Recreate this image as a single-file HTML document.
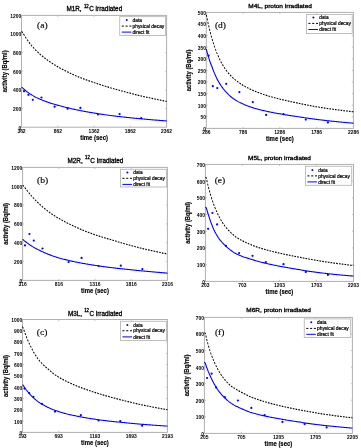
<!DOCTYPE html>
<html><head><meta charset="utf-8"><style>
html,body{margin:0;padding:0;background:#fff;width:361px;height:448px;overflow:hidden}
svg{display:block;will-change:transform}
text{fill:#000}
</style></head><body>
<svg xmlns="http://www.w3.org/2000/svg" width="361" height="448" viewBox="0 0 361 448">
<rect width="361" height="448" fill="#fff"/>
<rect x="21.5" y="15.4" width="145.1" height="111.8" fill="none" stroke="#b0b0b0" stroke-width="1.0"/>
<text transform="translate(21.20,129.60) scale(0.853,1)" font-family='"Liberation Sans", sans-serif' font-size="5.8" font-weight="bold" text-anchor="end" >0</text>
<line x1="21.5" y1="108.57" x2="23.1" y2="108.57" stroke="#b0b0b0" stroke-width="0.7"/>
<line x1="166.6" y1="108.57" x2="165.0" y2="108.57" stroke="#b0b0b0" stroke-width="0.7"/>
<text transform="translate(21.20,110.97) scale(0.853,1)" font-family='"Liberation Sans", sans-serif' font-size="5.8" font-weight="bold" text-anchor="end" >200</text>
<line x1="21.5" y1="89.93" x2="23.1" y2="89.93" stroke="#b0b0b0" stroke-width="0.7"/>
<line x1="166.6" y1="89.93" x2="165.0" y2="89.93" stroke="#b0b0b0" stroke-width="0.7"/>
<text transform="translate(21.20,92.33) scale(0.853,1)" font-family='"Liberation Sans", sans-serif' font-size="5.8" font-weight="bold" text-anchor="end" >400</text>
<line x1="21.5" y1="71.30" x2="23.1" y2="71.30" stroke="#b0b0b0" stroke-width="0.7"/>
<line x1="166.6" y1="71.30" x2="165.0" y2="71.30" stroke="#b0b0b0" stroke-width="0.7"/>
<text transform="translate(21.20,73.70) scale(0.853,1)" font-family='"Liberation Sans", sans-serif' font-size="5.8" font-weight="bold" text-anchor="end" >600</text>
<line x1="21.5" y1="52.67" x2="23.1" y2="52.67" stroke="#b0b0b0" stroke-width="0.7"/>
<line x1="166.6" y1="52.67" x2="165.0" y2="52.67" stroke="#b0b0b0" stroke-width="0.7"/>
<text transform="translate(21.20,55.07) scale(0.853,1)" font-family='"Liberation Sans", sans-serif' font-size="5.8" font-weight="bold" text-anchor="end" >800</text>
<line x1="21.5" y1="34.03" x2="23.1" y2="34.03" stroke="#b0b0b0" stroke-width="0.7"/>
<line x1="166.6" y1="34.03" x2="165.0" y2="34.03" stroke="#b0b0b0" stroke-width="0.7"/>
<text transform="translate(21.20,36.43) scale(0.853,1)" font-family='"Liberation Sans", sans-serif' font-size="5.8" font-weight="bold" text-anchor="end" >1000</text>
<text transform="translate(21.20,17.80) scale(0.853,1)" font-family='"Liberation Sans", sans-serif' font-size="5.8" font-weight="bold" text-anchor="end" >1200</text>
<text transform="translate(21.50,132.80) scale(0.853,1)" font-family='"Liberation Sans", sans-serif' font-size="5.8" font-weight="bold" text-anchor="middle" >362</text>
<line x1="57.77" y1="127.2" x2="57.77" y2="125.60000000000001" stroke="#b0b0b0" stroke-width="0.7"/>
<line x1="57.77" y1="15.4" x2="57.77" y2="17.0" stroke="#b0b0b0" stroke-width="0.7"/>
<text transform="translate(57.77,132.80) scale(0.853,1)" font-family='"Liberation Sans", sans-serif' font-size="5.8" font-weight="bold" text-anchor="middle" >862</text>
<line x1="94.05" y1="127.2" x2="94.05" y2="125.60000000000001" stroke="#b0b0b0" stroke-width="0.7"/>
<line x1="94.05" y1="15.4" x2="94.05" y2="17.0" stroke="#b0b0b0" stroke-width="0.7"/>
<text transform="translate(94.05,132.80) scale(0.853,1)" font-family='"Liberation Sans", sans-serif' font-size="5.8" font-weight="bold" text-anchor="middle" >1362</text>
<line x1="130.32" y1="127.2" x2="130.32" y2="125.60000000000001" stroke="#b0b0b0" stroke-width="0.7"/>
<line x1="130.32" y1="15.4" x2="130.32" y2="17.0" stroke="#b0b0b0" stroke-width="0.7"/>
<text transform="translate(130.32,132.80) scale(0.853,1)" font-family='"Liberation Sans", sans-serif' font-size="5.8" font-weight="bold" text-anchor="middle" >1862</text>
<text transform="translate(166.60,132.80) scale(0.853,1)" font-family='"Liberation Sans", sans-serif' font-size="5.8" font-weight="bold" text-anchor="middle" >2362</text>
<polyline transform="scale(0.78,1)" points="27.56,31.49 28.73,32.20 29.90,33.73 31.07,35.21 32.24,36.65 33.41,38.04 34.58,39.38 35.75,40.71 36.92,42.00 38.09,43.23 39.26,44.41 40.43,45.55 41.60,46.63 42.77,47.67 43.94,48.67 45.11,49.64 46.28,50.57 47.45,51.46 48.62,52.32 49.79,53.15 50.96,53.94 52.13,54.70 53.30,55.48 54.47,56.24 55.64,56.99 56.81,57.72 57.98,58.42 59.15,59.11 60.32,59.79 61.49,60.45 62.66,61.10 63.83,61.74 65.00,62.37 66.17,62.98 67.34,63.58 68.51,64.17 69.68,64.74 70.85,65.30 72.02,65.84 73.19,66.38 74.36,66.90 75.53,67.41 76.70,67.92 77.87,68.41 79.04,68.90 80.21,69.38 81.38,69.85 82.55,70.31 83.72,70.77 84.89,71.23 86.06,71.68 87.23,72.14 88.40,72.60 89.57,73.05 90.74,73.49 91.91,73.93 93.08,74.36 94.25,74.78 95.42,75.18 96.59,75.58 97.76,75.96 98.93,76.34 100.10,76.72 101.27,77.08 102.44,77.45 103.61,77.81 104.78,78.16 105.95,78.51 107.12,78.86 108.29,79.20 109.46,79.54 110.63,79.87 111.80,80.20 112.97,80.53 114.14,80.85 115.31,81.17 116.48,81.49 117.65,81.80 118.82,82.12 119.99,82.43 121.16,82.74 122.33,83.05 123.50,83.35 124.67,83.66 125.84,83.96 127.01,84.26 128.18,84.56 129.35,84.85 130.52,85.14 131.69,85.44 132.86,85.72 134.03,86.01 135.20,86.29 136.37,86.58 137.54,86.86 138.71,87.13 139.88,87.41 141.05,87.68 142.22,87.96 143.39,88.22 144.56,88.49 145.73,88.76 146.90,89.02 148.07,89.28 149.24,89.53 150.41,89.77 151.58,90.01 152.75,90.25 153.92,90.50 155.09,90.75 156.26,91.00 157.43,91.25 158.60,91.50 159.77,91.74 160.94,91.99 162.11,92.23 163.28,92.47 164.45,92.71 165.62,92.94 166.79,93.18 167.96,93.42 169.13,93.66 170.30,93.90 171.47,94.14 172.64,94.38 173.81,94.62 174.98,94.85 176.15,95.09 177.32,95.31 178.49,95.54 179.66,95.76 180.83,95.97 182.00,96.18 183.17,96.39 184.34,96.59 185.51,96.80 186.68,97.00 187.85,97.20 189.02,97.40 190.19,97.60 191.36,97.79 192.53,97.99 193.70,98.19 194.87,98.38 196.04,98.57 197.21,98.76 198.38,98.95 199.55,99.14 200.72,99.33 201.89,99.52 203.06,99.71 204.23,99.89 205.40,100.08 206.57,100.27 207.74,100.47 208.91,100.67 210.08,100.88 211.25,101.08 212.42,101.29 213.59,101.41" fill="none" stroke="#000" stroke-width="1.15" stroke-dasharray="2.15 1.45"/>
<polyline points="21.50,87.26 22.41,87.66 23.33,88.53 24.24,89.36 25.15,90.17 26.06,90.96 26.98,91.70 27.89,92.39 28.80,93.04 29.71,93.66 30.63,94.25 31.54,94.82 32.45,95.37 33.36,95.89 34.28,96.42 35.19,96.92 36.10,97.39 37.01,97.83 37.93,98.25 38.84,98.67 39.75,99.08 40.66,99.47 41.58,99.86 42.49,100.23 43.40,100.60 44.31,100.95 45.23,101.29 46.14,101.63 47.05,101.96 47.96,102.27 48.88,102.58 49.79,102.89 50.70,103.19 51.62,103.48 52.53,103.76 53.44,104.04 54.35,104.31 55.27,104.58 56.18,104.84 57.09,105.10 58.00,105.35 58.92,105.59 59.83,105.83 60.74,106.06 61.65,106.30 62.57,106.53 63.48,106.75 64.39,106.98 65.30,107.20 66.22,107.43 67.13,107.65 68.04,107.87 68.95,108.09 69.87,108.31 70.78,108.53 71.69,108.74 72.60,108.95 73.52,109.15 74.43,109.35 75.34,109.55 76.25,109.74 77.17,109.93 78.08,110.12 78.99,110.30 79.91,110.49 80.82,110.67 81.73,110.85 82.64,111.02 83.56,111.19 84.47,111.37 85.38,111.53 86.29,111.70 87.21,111.87 88.12,112.03 89.03,112.19 89.94,112.34 90.86,112.50 91.77,112.65 92.68,112.81 93.59,112.96 94.51,113.11 95.42,113.26 96.33,113.40 97.24,113.55 98.16,113.70 99.07,113.84 99.98,113.98 100.89,114.12 101.81,114.26 102.72,114.40 103.63,114.54 104.54,114.67 105.46,114.80 106.37,114.93 107.28,115.06 108.19,115.19 109.11,115.32 110.02,115.44 110.93,115.56 111.85,115.69 112.76,115.81 113.67,115.92 114.58,116.04 115.50,116.16 116.41,116.26 117.32,116.36 118.23,116.45 119.15,116.55 120.06,116.65 120.97,116.75 121.88,116.85 122.80,116.96 123.71,117.05 124.62,117.15 125.53,117.25 126.45,117.35 127.36,117.45 128.27,117.54 129.18,117.64 130.10,117.74 131.01,117.83 131.92,117.93 132.83,118.02 133.75,118.11 134.66,118.20 135.57,118.29 136.48,118.38 137.40,118.47 138.31,118.56 139.22,118.65 140.14,118.73 141.05,118.82 141.96,118.90 142.87,118.99 143.79,119.07 144.70,119.16 145.61,119.24 146.52,119.32 147.44,119.41 148.35,119.49 149.26,119.57 150.17,119.65 151.09,119.72 152.00,119.80 152.91,119.88 153.82,119.95 154.74,120.02 155.65,120.10 156.56,120.17 157.47,120.24 158.39,120.31 159.30,120.38 160.21,120.45 161.12,120.52 162.04,120.59 162.95,120.66 163.86,120.72 164.77,120.79 165.69,120.85 166.60,120.89" fill="none" stroke="#0000ff" stroke-width="1.1"/>
<circle cx="24" cy="91.2" r="1.1" fill="#0000ff"/>
<circle cx="28.4" cy="94.8" r="1.1" fill="#0000ff"/>
<circle cx="32.8" cy="99.8" r="1.1" fill="#0000ff"/>
<circle cx="41.5" cy="97.5" r="1.1" fill="#0000ff"/>
<circle cx="54.6" cy="106.7" r="1.1" fill="#0000ff"/>
<circle cx="67.6" cy="108.7" r="1.1" fill="#0000ff"/>
<circle cx="80.4" cy="107.9" r="1.1" fill="#0000ff"/>
<circle cx="97.9" cy="114.5" r="1.1" fill="#0000ff"/>
<circle cx="119.6" cy="114.1" r="1.1" fill="#0000ff"/>
<circle cx="141.2" cy="118.2" r="1.1" fill="#0000ff"/>
<rect x="119.75" y="16.7" width="45.85" height="18.70" fill="#fff" stroke="#b0b0b0" stroke-width="0.8"/>
<circle cx="126.75" cy="20.10" r="1" fill="#0000ff"/>
<line x1="121.75" y1="26.10" x2="131.35" y2="26.10" stroke="#000" stroke-width="1" stroke-dasharray="2.1 1.7"/>
<line x1="121.75" y1="32.10" x2="131.35" y2="32.10" stroke="#0000ff" stroke-width="1"/>
<text transform="translate(132.55,21.70) scale(0.970,1)" font-family='"Liberation Sans", sans-serif' font-size="5.0" font-weight="normal" text-anchor="start" stroke="#000" stroke-width="0.2">data</text>
<text transform="translate(132.55,27.70) scale(0.970,1)" font-family='"Liberation Sans", sans-serif' font-size="5.0" font-weight="normal" text-anchor="start" stroke="#000" stroke-width="0.2">physical decay</text>
<text transform="translate(132.55,33.70) scale(0.970,1)" font-family='"Liberation Sans", sans-serif' font-size="5.0" font-weight="normal" text-anchor="start" stroke="#000" stroke-width="0.2">direct fit</text>
<text transform="translate(66.40,11.10) scale(0.983,1)" font-family='"Liberation Sans", sans-serif' font-size="6.5" font-weight="normal" stroke="#000" stroke-width="0.3">M1R, <tspan font-size="4.42" dx="0.5" dy="-3.40">12</tspan><tspan dx="0.5" dy="3.40">C irradiated</tspan></text>
<text transform="translate(37.00,28.10) scale(1.060,1)" font-family='"Liberation Serif", serif' font-size="9.0" font-weight="normal" text-anchor="start" stroke="#000" stroke-width="0.15">(a)</text>
<text transform="translate(6.50,71.30) rotate(-90) scale(0.837,1)" font-family='"Liberation Sans", sans-serif' font-size="7.0" font-weight="bold" text-anchor="middle" stroke="#000" stroke-width="0.15">activity (Bq/ml)</text>
<text transform="translate(94.05,139.80) scale(0.851,1)" font-family='"Liberation Sans", sans-serif' font-size="7.0" font-weight="bold" text-anchor="middle" stroke="#000" stroke-width="0.15">time (sec)</text>
<rect x="22.6" y="167.4" width="144.8" height="112.99999999999997" fill="none" stroke="#b0b0b0" stroke-width="1.0"/>
<text transform="translate(22.30,282.80) scale(0.853,1)" font-family='"Liberation Sans", sans-serif' font-size="5.8" font-weight="bold" text-anchor="end" >0</text>
<line x1="22.6" y1="261.57" x2="24.200000000000003" y2="261.57" stroke="#b0b0b0" stroke-width="0.7"/>
<line x1="167.4" y1="261.57" x2="165.8" y2="261.57" stroke="#b0b0b0" stroke-width="0.7"/>
<text transform="translate(22.30,263.97) scale(0.853,1)" font-family='"Liberation Sans", sans-serif' font-size="5.8" font-weight="bold" text-anchor="end" >200</text>
<line x1="22.6" y1="242.73" x2="24.200000000000003" y2="242.73" stroke="#b0b0b0" stroke-width="0.7"/>
<line x1="167.4" y1="242.73" x2="165.8" y2="242.73" stroke="#b0b0b0" stroke-width="0.7"/>
<text transform="translate(22.30,245.13) scale(0.853,1)" font-family='"Liberation Sans", sans-serif' font-size="5.8" font-weight="bold" text-anchor="end" >400</text>
<line x1="22.6" y1="223.90" x2="24.200000000000003" y2="223.90" stroke="#b0b0b0" stroke-width="0.7"/>
<line x1="167.4" y1="223.90" x2="165.8" y2="223.90" stroke="#b0b0b0" stroke-width="0.7"/>
<text transform="translate(22.30,226.30) scale(0.853,1)" font-family='"Liberation Sans", sans-serif' font-size="5.8" font-weight="bold" text-anchor="end" >600</text>
<line x1="22.6" y1="205.07" x2="24.200000000000003" y2="205.07" stroke="#b0b0b0" stroke-width="0.7"/>
<line x1="167.4" y1="205.07" x2="165.8" y2="205.07" stroke="#b0b0b0" stroke-width="0.7"/>
<text transform="translate(22.30,207.47) scale(0.853,1)" font-family='"Liberation Sans", sans-serif' font-size="5.8" font-weight="bold" text-anchor="end" >800</text>
<line x1="22.6" y1="186.23" x2="24.200000000000003" y2="186.23" stroke="#b0b0b0" stroke-width="0.7"/>
<line x1="167.4" y1="186.23" x2="165.8" y2="186.23" stroke="#b0b0b0" stroke-width="0.7"/>
<text transform="translate(22.30,188.63) scale(0.853,1)" font-family='"Liberation Sans", sans-serif' font-size="5.8" font-weight="bold" text-anchor="end" >1000</text>
<text transform="translate(22.30,169.80) scale(0.853,1)" font-family='"Liberation Sans", sans-serif' font-size="5.8" font-weight="bold" text-anchor="end" >1200</text>
<text transform="translate(22.60,286.00) scale(0.853,1)" font-family='"Liberation Sans", sans-serif' font-size="5.8" font-weight="bold" text-anchor="middle" >316</text>
<line x1="58.80" y1="280.4" x2="58.80" y2="278.79999999999995" stroke="#b0b0b0" stroke-width="0.7"/>
<line x1="58.80" y1="167.4" x2="58.80" y2="169.0" stroke="#b0b0b0" stroke-width="0.7"/>
<text transform="translate(58.80,286.00) scale(0.853,1)" font-family='"Liberation Sans", sans-serif' font-size="5.8" font-weight="bold" text-anchor="middle" >816</text>
<line x1="95.00" y1="280.4" x2="95.00" y2="278.79999999999995" stroke="#b0b0b0" stroke-width="0.7"/>
<line x1="95.00" y1="167.4" x2="95.00" y2="169.0" stroke="#b0b0b0" stroke-width="0.7"/>
<text transform="translate(95.00,286.00) scale(0.853,1)" font-family='"Liberation Sans", sans-serif' font-size="5.8" font-weight="bold" text-anchor="middle" >1316</text>
<line x1="131.20" y1="280.4" x2="131.20" y2="278.79999999999995" stroke="#b0b0b0" stroke-width="0.7"/>
<line x1="131.20" y1="167.4" x2="131.20" y2="169.0" stroke="#b0b0b0" stroke-width="0.7"/>
<text transform="translate(131.20,286.00) scale(0.853,1)" font-family='"Liberation Sans", sans-serif' font-size="5.8" font-weight="bold" text-anchor="middle" >1816</text>
<text transform="translate(167.40,286.00) scale(0.853,1)" font-family='"Liberation Sans", sans-serif' font-size="5.8" font-weight="bold" text-anchor="middle" >2316</text>
<polyline transform="scale(0.78,1)" points="28.97,185.13 30.14,185.84 31.31,187.08 32.48,188.29 33.64,189.48 34.81,190.64 35.98,191.79 37.15,192.92 38.31,194.02 39.48,195.09 40.65,196.13 41.82,197.15 42.99,198.16 44.15,199.14 45.32,200.11 46.49,201.04 47.66,201.95 48.82,202.83 49.99,203.69 51.16,204.53 52.33,205.35 53.49,206.15 54.66,206.93 55.83,207.70 57.00,208.46 58.16,209.20 59.33,209.92 60.50,210.63 61.67,211.32 62.83,212.00 64.00,212.66 65.17,213.31 66.34,213.95 67.50,214.57 68.67,215.18 69.84,215.78 71.01,216.37 72.17,216.94 73.34,217.49 74.51,218.03 75.68,218.55 76.84,219.07 78.01,219.57 79.18,220.07 80.35,220.56 81.51,221.04 82.68,221.53 83.85,222.01 85.02,222.49 86.18,222.96 87.35,223.42 88.52,223.88 89.69,224.33 90.85,224.77 92.02,225.21 93.19,225.64 94.36,226.07 95.52,226.49 96.69,226.91 97.86,227.33 99.03,227.74 100.20,228.15 101.36,228.56 102.53,228.97 103.70,229.37 104.87,229.76 106.03,230.15 107.20,230.53 108.37,230.90 109.54,231.26 110.70,231.61 111.87,231.96 113.04,232.30 114.21,232.64 115.37,232.98 116.54,233.31 117.71,233.64 118.88,233.96 120.04,234.28 121.21,234.60 122.38,234.92 123.55,235.22 124.71,235.52 125.88,235.82 127.05,236.11 128.22,236.40 129.38,236.68 130.55,236.96 131.72,237.24 132.89,237.52 134.05,237.80 135.22,238.08 136.39,238.35 137.56,238.62 138.72,238.89 139.89,239.16 141.06,239.42 142.23,239.69 143.39,239.95 144.56,240.22 145.73,240.48 146.90,240.75 148.06,241.02 149.23,241.31 150.40,241.63 151.57,241.94 152.74,242.24 153.90,242.52 155.07,242.78 156.24,243.03 157.41,243.29 158.57,243.54 159.74,243.79 160.91,244.04 162.08,244.29 163.24,244.53 164.41,244.78 165.58,245.02 166.75,245.27 167.91,245.51 169.08,245.76 170.25,246.01 171.42,246.27 172.58,246.52 173.75,246.77 174.92,247.02 176.09,247.26 177.25,247.50 178.42,247.74 179.59,247.97 180.76,248.19 181.92,248.41 183.09,248.62 184.26,248.84 185.43,249.05 186.59,249.25 187.76,249.46 188.93,249.67 190.10,249.87 191.26,250.08 192.43,250.28 193.60,250.49 194.77,250.69 195.93,250.89 197.10,251.09 198.27,251.30 199.44,251.50 200.60,251.69 201.77,251.89 202.94,252.09 204.11,252.29 205.27,252.48 206.44,252.67 207.61,252.87 208.78,253.06 209.95,253.25 211.11,253.44 212.28,253.63 213.45,253.82 214.62,253.98" fill="none" stroke="#000" stroke-width="1.15" stroke-dasharray="2.15 1.45"/>
<polyline points="22.60,239.36 23.51,240.05 24.42,240.81 25.33,241.53 26.24,242.24 27.15,242.92 28.06,243.58 28.97,244.22 29.89,244.85 30.80,245.45 31.71,246.03 32.62,246.60 33.53,247.14 34.44,247.66 35.35,248.17 36.26,248.67 37.17,249.16 38.08,249.63 38.99,250.09 39.90,250.54 40.81,250.98 41.72,251.41 42.64,251.83 43.55,252.24 44.46,252.64 45.37,253.03 46.28,253.42 47.19,253.80 48.10,254.17 49.01,254.53 49.92,254.88 50.83,255.23 51.74,255.57 52.65,255.91 53.56,256.24 54.47,256.55 55.38,256.85 56.30,257.13 57.21,257.41 58.12,257.68 59.03,257.94 59.94,258.20 60.85,258.44 61.76,258.69 62.67,258.93 63.58,259.16 64.49,259.40 65.40,259.63 66.31,259.86 67.22,260.08 68.13,260.30 69.05,260.52 69.96,260.73 70.87,260.94 71.78,261.14 72.69,261.34 73.60,261.54 74.51,261.73 75.42,261.92 76.33,262.11 77.24,262.29 78.15,262.47 79.06,262.65 79.97,262.83 80.88,263.00 81.79,263.17 82.71,263.34 83.62,263.50 84.53,263.66 85.44,263.82 86.35,263.98 87.26,264.13 88.17,264.28 89.08,264.43 89.99,264.58 90.90,264.72 91.81,264.86 92.72,265.01 93.63,265.15 94.54,265.28 95.46,265.42 96.37,265.56 97.28,265.69 98.19,265.82 99.10,265.96 100.01,266.09 100.92,266.22 101.83,266.35 102.74,266.47 103.65,266.60 104.56,266.73 105.47,266.85 106.38,266.97 107.29,267.09 108.21,267.22 109.12,267.34 110.03,267.45 110.94,267.57 111.85,267.69 112.76,267.80 113.67,267.91 114.58,268.03 115.49,268.13 116.40,268.23 117.31,268.33 118.22,268.42 119.13,268.51 120.04,268.61 120.95,268.70 121.87,268.80 122.78,268.90 123.69,269.00 124.60,269.09 125.51,269.19 126.42,269.29 127.33,269.38 128.24,269.48 129.15,269.57 130.06,269.67 130.97,269.76 131.88,269.86 132.79,269.95 133.70,270.05 134.62,270.15 135.53,270.24 136.44,270.34 137.35,270.43 138.26,270.52 139.17,270.62 140.08,270.70 140.99,270.79 141.90,270.88 142.81,270.96 143.72,271.04 144.63,271.12 145.54,271.20 146.45,271.28 147.36,271.36 148.28,271.44 149.19,271.52 150.10,271.60 151.01,271.69 151.92,271.77 152.83,271.85 153.74,271.93 154.65,272.02 155.56,272.10 156.47,272.18 157.38,272.26 158.29,272.34 159.20,272.42 160.11,272.51 161.03,272.59 161.94,272.67 162.85,272.75 163.76,272.83 164.67,272.91 165.58,273.00 166.49,273.08 167.40,273.15" fill="none" stroke="#0000ff" stroke-width="1.1"/>
<circle cx="25" cy="245.4" r="1.1" fill="#0000ff"/>
<circle cx="29.4" cy="234" r="1.1" fill="#0000ff"/>
<circle cx="33.8" cy="240.6" r="1.1" fill="#0000ff"/>
<circle cx="42.5" cy="248.5" r="1.1" fill="#0000ff"/>
<circle cx="68.6" cy="262" r="1.1" fill="#0000ff"/>
<circle cx="81.6" cy="257.9" r="1.1" fill="#0000ff"/>
<circle cx="98.5" cy="266" r="1.1" fill="#0000ff"/>
<circle cx="120.8" cy="265.7" r="1.1" fill="#0000ff"/>
<circle cx="142.4" cy="269.1" r="1.1" fill="#0000ff"/>
<rect x="120.4" y="169.25" width="46.10" height="17.75" fill="#fff" stroke="#b0b0b0" stroke-width="0.8"/>
<circle cx="127.4" cy="172.60" r="1" fill="#0000ff"/>
<line x1="122.4" y1="178.30" x2="132.0" y2="178.30" stroke="#000" stroke-width="1" stroke-dasharray="2.1 1.7"/>
<line x1="122.4" y1="184.40" x2="132.0" y2="184.40" stroke="#0000ff" stroke-width="1"/>
<text transform="translate(133.20,174.20) scale(0.970,1)" font-family='"Liberation Sans", sans-serif' font-size="5.0" font-weight="normal" text-anchor="start" stroke="#000" stroke-width="0.2">data</text>
<text transform="translate(133.20,179.90) scale(0.970,1)" font-family='"Liberation Sans", sans-serif' font-size="5.0" font-weight="normal" text-anchor="start" stroke="#000" stroke-width="0.2">physical decay</text>
<text transform="translate(133.20,186.00) scale(0.970,1)" font-family='"Liberation Sans", sans-serif' font-size="5.0" font-weight="normal" text-anchor="start" stroke="#000" stroke-width="0.2">direct fit</text>
<text transform="translate(67.50,162.70) scale(0.983,1)" font-family='"Liberation Sans", sans-serif' font-size="6.5" font-weight="normal" stroke="#000" stroke-width="0.3">M2R, <tspan font-size="4.42" dx="0.5" dy="-3.40">12</tspan><tspan dx="0.5" dy="3.40">C irradiated</tspan></text>
<text transform="translate(37.00,182.60) scale(1.060,1)" font-family='"Liberation Serif", serif' font-size="9.0" font-weight="normal" text-anchor="start" stroke="#000" stroke-width="0.15">(b)</text>
<text transform="translate(7.60,223.90) rotate(-90) scale(0.837,1)" font-family='"Liberation Sans", sans-serif' font-size="7.0" font-weight="bold" text-anchor="middle" stroke="#000" stroke-width="0.15">activity (Bq/ml)</text>
<text transform="translate(95.00,293.00) scale(0.851,1)" font-family='"Liberation Sans", sans-serif' font-size="7.0" font-weight="bold" text-anchor="middle" stroke="#000" stroke-width="0.15">time (sec)</text>
<rect x="22.5" y="319.5" width="144.9" height="112.89999999999998" fill="none" stroke="#b0b0b0" stroke-width="1.0"/>
<text transform="translate(22.20,434.80) scale(0.853,1)" font-family='"Liberation Sans", sans-serif' font-size="5.8" font-weight="bold" text-anchor="end" >0</text>
<line x1="22.5" y1="421.11" x2="24.1" y2="421.11" stroke="#b0b0b0" stroke-width="0.7"/>
<line x1="167.4" y1="421.11" x2="165.8" y2="421.11" stroke="#b0b0b0" stroke-width="0.7"/>
<text transform="translate(22.20,423.51) scale(0.853,1)" font-family='"Liberation Sans", sans-serif' font-size="5.8" font-weight="bold" text-anchor="end" >100</text>
<line x1="22.5" y1="409.82" x2="24.1" y2="409.82" stroke="#b0b0b0" stroke-width="0.7"/>
<line x1="167.4" y1="409.82" x2="165.8" y2="409.82" stroke="#b0b0b0" stroke-width="0.7"/>
<text transform="translate(22.20,412.22) scale(0.853,1)" font-family='"Liberation Sans", sans-serif' font-size="5.8" font-weight="bold" text-anchor="end" >200</text>
<line x1="22.5" y1="398.53" x2="24.1" y2="398.53" stroke="#b0b0b0" stroke-width="0.7"/>
<line x1="167.4" y1="398.53" x2="165.8" y2="398.53" stroke="#b0b0b0" stroke-width="0.7"/>
<text transform="translate(22.20,400.93) scale(0.853,1)" font-family='"Liberation Sans", sans-serif' font-size="5.8" font-weight="bold" text-anchor="end" >300</text>
<line x1="22.5" y1="387.24" x2="24.1" y2="387.24" stroke="#b0b0b0" stroke-width="0.7"/>
<line x1="167.4" y1="387.24" x2="165.8" y2="387.24" stroke="#b0b0b0" stroke-width="0.7"/>
<text transform="translate(22.20,389.64) scale(0.853,1)" font-family='"Liberation Sans", sans-serif' font-size="5.8" font-weight="bold" text-anchor="end" >400</text>
<line x1="22.5" y1="375.95" x2="24.1" y2="375.95" stroke="#b0b0b0" stroke-width="0.7"/>
<line x1="167.4" y1="375.95" x2="165.8" y2="375.95" stroke="#b0b0b0" stroke-width="0.7"/>
<text transform="translate(22.20,378.35) scale(0.853,1)" font-family='"Liberation Sans", sans-serif' font-size="5.8" font-weight="bold" text-anchor="end" >500</text>
<line x1="22.5" y1="364.66" x2="24.1" y2="364.66" stroke="#b0b0b0" stroke-width="0.7"/>
<line x1="167.4" y1="364.66" x2="165.8" y2="364.66" stroke="#b0b0b0" stroke-width="0.7"/>
<text transform="translate(22.20,367.06) scale(0.853,1)" font-family='"Liberation Sans", sans-serif' font-size="5.8" font-weight="bold" text-anchor="end" >600</text>
<line x1="22.5" y1="353.37" x2="24.1" y2="353.37" stroke="#b0b0b0" stroke-width="0.7"/>
<line x1="167.4" y1="353.37" x2="165.8" y2="353.37" stroke="#b0b0b0" stroke-width="0.7"/>
<text transform="translate(22.20,355.77) scale(0.853,1)" font-family='"Liberation Sans", sans-serif' font-size="5.8" font-weight="bold" text-anchor="end" >700</text>
<line x1="22.5" y1="342.08" x2="24.1" y2="342.08" stroke="#b0b0b0" stroke-width="0.7"/>
<line x1="167.4" y1="342.08" x2="165.8" y2="342.08" stroke="#b0b0b0" stroke-width="0.7"/>
<text transform="translate(22.20,344.48) scale(0.853,1)" font-family='"Liberation Sans", sans-serif' font-size="5.8" font-weight="bold" text-anchor="end" >800</text>
<line x1="22.5" y1="330.79" x2="24.1" y2="330.79" stroke="#b0b0b0" stroke-width="0.7"/>
<line x1="167.4" y1="330.79" x2="165.8" y2="330.79" stroke="#b0b0b0" stroke-width="0.7"/>
<text transform="translate(22.20,333.19) scale(0.853,1)" font-family='"Liberation Sans", sans-serif' font-size="5.8" font-weight="bold" text-anchor="end" >900</text>
<text transform="translate(22.20,321.90) scale(0.853,1)" font-family='"Liberation Sans", sans-serif' font-size="5.8" font-weight="bold" text-anchor="end" >1000</text>
<text transform="translate(22.50,438.00) scale(0.853,1)" font-family='"Liberation Sans", sans-serif' font-size="5.8" font-weight="bold" text-anchor="middle" >193</text>
<line x1="58.73" y1="432.4" x2="58.73" y2="430.79999999999995" stroke="#b0b0b0" stroke-width="0.7"/>
<line x1="58.73" y1="319.5" x2="58.73" y2="321.1" stroke="#b0b0b0" stroke-width="0.7"/>
<text transform="translate(58.73,438.00) scale(0.853,1)" font-family='"Liberation Sans", sans-serif' font-size="5.8" font-weight="bold" text-anchor="middle" >693</text>
<line x1="94.95" y1="432.4" x2="94.95" y2="430.79999999999995" stroke="#b0b0b0" stroke-width="0.7"/>
<line x1="94.95" y1="319.5" x2="94.95" y2="321.1" stroke="#b0b0b0" stroke-width="0.7"/>
<text transform="translate(94.95,438.00) scale(0.853,1)" font-family='"Liberation Sans", sans-serif' font-size="5.8" font-weight="bold" text-anchor="middle" >1193</text>
<line x1="131.18" y1="432.4" x2="131.18" y2="430.79999999999995" stroke="#b0b0b0" stroke-width="0.7"/>
<line x1="131.18" y1="319.5" x2="131.18" y2="321.1" stroke="#b0b0b0" stroke-width="0.7"/>
<text transform="translate(131.18,438.00) scale(0.853,1)" font-family='"Liberation Sans", sans-serif' font-size="5.8" font-weight="bold" text-anchor="middle" >1693</text>
<text transform="translate(167.40,438.00) scale(0.853,1)" font-family='"Liberation Sans", sans-serif' font-size="5.8" font-weight="bold" text-anchor="middle" >2193</text>
<polyline transform="scale(0.78,1)" points="28.85,326.65 30.01,328.59 31.18,331.31 32.35,333.75 33.52,336.15 34.69,338.54 35.86,340.74 37.02,342.81 38.19,344.70 39.36,346.47 40.53,348.25 41.70,349.97 42.87,351.85 44.03,353.39 45.20,354.85 46.37,356.23 47.54,357.55 48.71,358.80 49.88,359.98 51.04,361.10 52.21,362.16 53.38,363.17 54.55,364.12 55.72,365.00 56.89,365.84 58.06,366.65 59.22,367.43 60.39,368.21 61.56,368.99 62.73,369.78 63.90,370.59 65.07,371.40 66.23,372.19 67.40,372.96 68.57,373.70 69.74,374.38 70.91,375.01 72.08,375.60 73.24,376.19 74.41,376.75 75.58,377.30 76.75,377.84 77.92,378.36 79.09,378.87 80.25,379.37 81.42,379.85 82.59,380.33 83.76,380.80 84.93,381.25 86.10,381.70 87.26,382.14 88.43,382.57 89.60,383.00 90.77,383.41 91.94,383.82 93.11,384.22 94.27,384.62 95.44,385.01 96.61,385.39 97.78,385.76 98.95,386.13 100.12,386.49 101.28,386.85 102.45,387.20 103.62,387.55 104.79,387.89 105.96,388.23 107.13,388.56 108.29,388.89 109.46,389.22 110.63,389.54 111.80,389.86 112.97,390.18 114.14,390.49 115.30,390.80 116.47,391.11 117.64,391.41 118.81,391.71 119.98,392.01 121.15,392.30 122.31,392.59 123.48,392.88 124.65,393.17 125.82,393.45 126.99,393.73 128.16,394.01 129.33,394.29 130.49,394.56 131.66,394.84 132.83,395.11 134.00,395.37 135.17,395.64 136.34,395.90 137.50,396.16 138.67,396.42 139.84,396.68 141.01,396.94 142.18,397.19 143.35,397.44 144.51,397.69 145.68,397.94 146.85,398.18 148.02,398.42 149.19,398.67 150.36,398.91 151.52,399.14 152.69,399.38 153.86,399.61 155.03,399.85 156.20,400.08 157.37,400.31 158.53,400.54 159.70,400.77 160.87,401.00 162.04,401.23 163.21,401.45 164.38,401.68 165.54,401.90 166.71,402.12 167.88,402.34 169.05,402.56 170.22,402.78 171.39,403.00 172.55,403.22 173.72,403.43 174.89,403.65 176.06,403.86 177.23,404.07 178.40,404.27 179.56,404.47 180.73,404.67 181.90,404.86 183.07,405.05 184.24,405.25 185.41,405.43 186.57,405.62 187.74,405.81 188.91,405.99 190.08,406.18 191.25,406.36 192.42,406.54 193.58,406.72 194.75,406.89 195.92,407.07 197.09,407.25 198.26,407.42 199.43,407.59 200.60,407.76 201.76,407.93 202.93,408.10 204.10,408.27 205.27,408.43 206.44,408.60 207.61,408.76 208.77,408.92 209.94,409.08 211.11,409.24 212.28,409.40 213.45,409.55 214.62,409.69" fill="none" stroke="#000" stroke-width="1.15" stroke-dasharray="2.15 1.45"/>
<polyline points="22.50,384.64 23.41,385.55 24.32,387.08 25.23,388.49 26.15,389.76 27.06,390.91 27.97,391.99 28.88,393.04 29.79,394.08 30.70,395.08 31.61,396.03 32.52,396.93 33.44,397.80 34.35,398.63 35.26,399.43 36.17,400.20 37.08,400.94 37.99,401.63 38.90,402.27 39.82,402.89 40.73,403.47 41.64,404.03 42.55,404.57 43.46,405.09 44.37,405.58 45.28,406.05 46.19,406.51 47.11,406.96 48.02,407.39 48.93,407.82 49.84,408.23 50.75,408.63 51.66,409.02 52.57,409.40 53.48,409.76 54.40,410.10 55.31,410.43 56.22,410.75 57.13,411.06 58.04,411.36 58.95,411.65 59.86,411.94 60.78,412.23 61.69,412.52 62.60,412.81 63.51,413.09 64.42,413.35 65.33,413.59 66.24,413.82 67.15,414.05 68.07,414.26 68.98,414.47 69.89,414.67 70.80,414.87 71.71,415.06 72.62,415.25 73.53,415.44 74.45,415.62 75.36,415.81 76.27,416.00 77.18,416.18 78.09,416.37 79.00,416.55 79.91,416.72 80.82,416.90 81.74,417.07 82.65,417.24 83.56,417.40 84.47,417.56 85.38,417.72 86.29,417.87 87.20,418.02 88.12,418.17 89.03,418.32 89.94,418.46 90.85,418.61 91.76,418.75 92.67,418.89 93.58,419.02 94.49,419.16 95.41,419.29 96.32,419.42 97.23,419.55 98.14,419.68 99.05,419.81 99.96,419.93 100.87,420.06 101.78,420.18 102.70,420.30 103.61,420.42 104.52,420.53 105.43,420.65 106.34,420.76 107.25,420.87 108.16,420.98 109.08,421.09 109.99,421.19 110.90,421.30 111.81,421.40 112.72,421.50 113.63,421.60 114.54,421.70 115.45,421.79 116.37,421.87 117.28,421.94 118.19,422.00 119.10,422.07 120.01,422.15 120.92,422.25 121.83,422.35 122.75,422.44 123.66,422.54 124.57,422.64 125.48,422.74 126.39,422.83 127.30,422.93 128.21,423.02 129.12,423.12 130.04,423.21 130.95,423.29 131.86,423.38 132.77,423.47 133.68,423.56 134.59,423.64 135.50,423.72 136.42,423.81 137.33,423.89 138.24,423.97 139.15,424.05 140.06,424.12 140.97,424.20 141.88,424.27 142.79,424.35 143.71,424.42 144.62,424.49 145.53,424.56 146.44,424.63 147.35,424.70 148.26,424.77 149.17,424.84 150.08,424.91 151.00,424.98 151.91,425.05 152.82,425.11 153.73,425.18 154.64,425.25 155.55,425.31 156.46,425.38 157.38,425.44 158.29,425.50 159.20,425.57 160.11,425.63 161.02,425.69 161.93,425.75 162.84,425.81 163.75,425.88 164.67,425.94 165.58,426.00 166.49,426.06 167.40,426.11" fill="none" stroke="#0000ff" stroke-width="1.1"/>
<circle cx="24.5" cy="388.6" r="1.1" fill="#0000ff"/>
<circle cx="29.2" cy="393.1" r="1.1" fill="#0000ff"/>
<circle cx="33.4" cy="396.8" r="1.1" fill="#0000ff"/>
<circle cx="42" cy="403.8" r="1.1" fill="#0000ff"/>
<circle cx="55" cy="411.6" r="1.1" fill="#0000ff"/>
<circle cx="80.8" cy="415.2" r="1.1" fill="#0000ff"/>
<circle cx="98.5" cy="420.5" r="1.1" fill="#0000ff"/>
<circle cx="120.3" cy="421.2" r="1.1" fill="#0000ff"/>
<circle cx="142.1" cy="425.7" r="1.1" fill="#0000ff"/>
<rect x="120.4" y="321.25" width="46.10" height="19.15" fill="#fff" stroke="#b0b0b0" stroke-width="0.8"/>
<circle cx="127.4" cy="325.00" r="1" fill="#0000ff"/>
<line x1="122.4" y1="330.75" x2="132.0" y2="330.75" stroke="#000" stroke-width="1" stroke-dasharray="2.1 1.7"/>
<line x1="122.4" y1="336.90" x2="132.0" y2="336.90" stroke="#0000ff" stroke-width="1"/>
<text transform="translate(133.20,326.60) scale(0.970,1)" font-family='"Liberation Sans", sans-serif' font-size="5.0" font-weight="normal" text-anchor="start" stroke="#000" stroke-width="0.2">data</text>
<text transform="translate(133.20,332.35) scale(0.970,1)" font-family='"Liberation Sans", sans-serif' font-size="5.0" font-weight="normal" text-anchor="start" stroke="#000" stroke-width="0.2">physical decay</text>
<text transform="translate(133.20,338.50) scale(0.970,1)" font-family='"Liberation Sans", sans-serif' font-size="5.0" font-weight="normal" text-anchor="start" stroke="#000" stroke-width="0.2">direct fit</text>
<text transform="translate(67.90,315.80) scale(0.975,1)" font-family='"Liberation Sans", sans-serif' font-size="6.5" font-weight="normal" stroke="#000" stroke-width="0.3">M3L, <tspan font-size="4.42" dx="0.5" dy="-3.40">12</tspan><tspan dx="0.5" dy="3.40">C irradiated</tspan></text>
<text transform="translate(36.80,334.50) scale(1.060,1)" font-family='"Liberation Serif", serif' font-size="9.0" font-weight="normal" text-anchor="start" stroke="#000" stroke-width="0.15">(c)</text>
<text transform="translate(7.50,375.95) rotate(-90) scale(0.837,1)" font-family='"Liberation Sans", sans-serif' font-size="7.0" font-weight="bold" text-anchor="middle" stroke="#000" stroke-width="0.15">activity (Bq/ml)</text>
<text transform="translate(94.95,445.00) scale(0.851,1)" font-family='"Liberation Sans", sans-serif' font-size="7.0" font-weight="bold" text-anchor="middle" stroke="#000" stroke-width="0.15">time (sec)</text>
<rect x="206.3" y="12.4" width="147.09999999999997" height="116.0" fill="none" stroke="#b0b0b0" stroke-width="1.0"/>
<text transform="translate(206.00,130.80) scale(0.853,1)" font-family='"Liberation Sans", sans-serif' font-size="5.8" font-weight="bold" text-anchor="end" >0</text>
<line x1="206.3" y1="116.80" x2="207.9" y2="116.80" stroke="#b0b0b0" stroke-width="0.7"/>
<line x1="353.4" y1="116.80" x2="351.79999999999995" y2="116.80" stroke="#b0b0b0" stroke-width="0.7"/>
<text transform="translate(206.00,119.20) scale(0.853,1)" font-family='"Liberation Sans", sans-serif' font-size="5.8" font-weight="bold" text-anchor="end" >50</text>
<line x1="206.3" y1="105.20" x2="207.9" y2="105.20" stroke="#b0b0b0" stroke-width="0.7"/>
<line x1="353.4" y1="105.20" x2="351.79999999999995" y2="105.20" stroke="#b0b0b0" stroke-width="0.7"/>
<text transform="translate(206.00,107.60) scale(0.853,1)" font-family='"Liberation Sans", sans-serif' font-size="5.8" font-weight="bold" text-anchor="end" >100</text>
<line x1="206.3" y1="93.60" x2="207.9" y2="93.60" stroke="#b0b0b0" stroke-width="0.7"/>
<line x1="353.4" y1="93.60" x2="351.79999999999995" y2="93.60" stroke="#b0b0b0" stroke-width="0.7"/>
<text transform="translate(206.00,96.00) scale(0.853,1)" font-family='"Liberation Sans", sans-serif' font-size="5.8" font-weight="bold" text-anchor="end" >150</text>
<line x1="206.3" y1="82.00" x2="207.9" y2="82.00" stroke="#b0b0b0" stroke-width="0.7"/>
<line x1="353.4" y1="82.00" x2="351.79999999999995" y2="82.00" stroke="#b0b0b0" stroke-width="0.7"/>
<text transform="translate(206.00,84.40) scale(0.853,1)" font-family='"Liberation Sans", sans-serif' font-size="5.8" font-weight="bold" text-anchor="end" >200</text>
<line x1="206.3" y1="70.40" x2="207.9" y2="70.40" stroke="#b0b0b0" stroke-width="0.7"/>
<line x1="353.4" y1="70.40" x2="351.79999999999995" y2="70.40" stroke="#b0b0b0" stroke-width="0.7"/>
<text transform="translate(206.00,72.80) scale(0.853,1)" font-family='"Liberation Sans", sans-serif' font-size="5.8" font-weight="bold" text-anchor="end" >250</text>
<line x1="206.3" y1="58.80" x2="207.9" y2="58.80" stroke="#b0b0b0" stroke-width="0.7"/>
<line x1="353.4" y1="58.80" x2="351.79999999999995" y2="58.80" stroke="#b0b0b0" stroke-width="0.7"/>
<text transform="translate(206.00,61.20) scale(0.853,1)" font-family='"Liberation Sans", sans-serif' font-size="5.8" font-weight="bold" text-anchor="end" >300</text>
<line x1="206.3" y1="47.20" x2="207.9" y2="47.20" stroke="#b0b0b0" stroke-width="0.7"/>
<line x1="353.4" y1="47.20" x2="351.79999999999995" y2="47.20" stroke="#b0b0b0" stroke-width="0.7"/>
<text transform="translate(206.00,49.60) scale(0.853,1)" font-family='"Liberation Sans", sans-serif' font-size="5.8" font-weight="bold" text-anchor="end" >350</text>
<line x1="206.3" y1="35.60" x2="207.9" y2="35.60" stroke="#b0b0b0" stroke-width="0.7"/>
<line x1="353.4" y1="35.60" x2="351.79999999999995" y2="35.60" stroke="#b0b0b0" stroke-width="0.7"/>
<text transform="translate(206.00,38.00) scale(0.853,1)" font-family='"Liberation Sans", sans-serif' font-size="5.8" font-weight="bold" text-anchor="end" >400</text>
<line x1="206.3" y1="24.00" x2="207.9" y2="24.00" stroke="#b0b0b0" stroke-width="0.7"/>
<line x1="353.4" y1="24.00" x2="351.79999999999995" y2="24.00" stroke="#b0b0b0" stroke-width="0.7"/>
<text transform="translate(206.00,26.40) scale(0.853,1)" font-family='"Liberation Sans", sans-serif' font-size="5.8" font-weight="bold" text-anchor="end" >450</text>
<text transform="translate(206.00,14.80) scale(0.853,1)" font-family='"Liberation Sans", sans-serif' font-size="5.8" font-weight="bold" text-anchor="end" >500</text>
<text transform="translate(206.30,134.00) scale(0.853,1)" font-family='"Liberation Sans", sans-serif' font-size="5.8" font-weight="bold" text-anchor="middle" >286</text>
<line x1="243.07" y1="128.4" x2="243.07" y2="126.80000000000001" stroke="#b0b0b0" stroke-width="0.7"/>
<line x1="243.07" y1="12.4" x2="243.07" y2="14.0" stroke="#b0b0b0" stroke-width="0.7"/>
<text transform="translate(243.07,134.00) scale(0.853,1)" font-family='"Liberation Sans", sans-serif' font-size="5.8" font-weight="bold" text-anchor="middle" >786</text>
<line x1="279.85" y1="128.4" x2="279.85" y2="126.80000000000001" stroke="#b0b0b0" stroke-width="0.7"/>
<line x1="279.85" y1="12.4" x2="279.85" y2="14.0" stroke="#b0b0b0" stroke-width="0.7"/>
<text transform="translate(279.85,134.00) scale(0.853,1)" font-family='"Liberation Sans", sans-serif' font-size="5.8" font-weight="bold" text-anchor="middle" >1286</text>
<line x1="316.62" y1="128.4" x2="316.62" y2="126.80000000000001" stroke="#b0b0b0" stroke-width="0.7"/>
<line x1="316.62" y1="12.4" x2="316.62" y2="14.0" stroke="#b0b0b0" stroke-width="0.7"/>
<text transform="translate(316.62,134.00) scale(0.853,1)" font-family='"Liberation Sans", sans-serif' font-size="5.8" font-weight="bold" text-anchor="middle" >1786</text>
<text transform="translate(353.40,134.00) scale(0.853,1)" font-family='"Liberation Sans", sans-serif' font-size="5.8" font-weight="bold" text-anchor="middle" >2286</text>
<polyline transform="scale(0.78,1)" points="264.49,14.88 265.67,18.89 266.86,23.32 268.05,27.35 269.23,31.33 270.42,34.91 271.60,38.20 272.79,41.31 273.98,44.13 275.16,46.97 276.35,49.60 277.53,52.03 278.72,54.27 279.91,56.36 281.09,58.40 282.28,60.32 283.46,62.11 284.65,63.78 285.84,65.34 287.02,66.84 288.21,68.30 289.40,69.66 290.58,70.92 291.77,72.10 292.95,73.22 294.14,74.27 295.33,75.26 296.51,76.20 297.70,77.11 298.88,77.98 300.07,78.81 301.26,79.61 302.44,80.37 303.63,81.10 304.81,81.80 306.00,82.46 307.19,83.08 308.37,83.68 309.56,84.27 310.75,84.86 311.93,85.44 313.12,86.00 314.30,86.54 315.49,87.05 316.68,87.55 317.86,88.03 319.05,88.49 320.23,88.94 321.42,89.38 322.61,89.80 323.79,90.21 324.98,90.61 326.16,91.01 327.35,91.39 328.54,91.76 329.72,92.12 330.91,92.48 332.09,92.82 333.28,93.16 334.47,93.49 335.65,93.82 336.84,94.14 338.03,94.45 339.21,94.76 340.40,95.06 341.58,95.36 342.77,95.65 343.96,95.93 345.14,96.21 346.33,96.49 347.51,96.76 348.70,97.03 349.89,97.28 351.07,97.54 352.26,97.79 353.44,98.03 354.63,98.27 355.82,98.51 357.00,98.74 358.19,98.97 359.38,99.21 360.56,99.43 361.75,99.66 362.93,99.88 364.12,100.10 365.31,100.32 366.49,100.53 367.68,100.75 368.86,100.96 370.05,101.17 371.24,101.37 372.42,101.58 373.61,101.78 374.79,101.97 375.98,102.17 377.17,102.37 378.35,102.56 379.54,102.75 380.72,102.94 381.91,103.13 383.10,103.31 384.28,103.50 385.47,103.69 386.66,103.89 387.84,104.09 389.03,104.30 390.21,104.49 391.40,104.68 392.59,104.87 393.77,105.05 394.96,105.22 396.14,105.40 397.33,105.57 398.52,105.75 399.70,105.91 400.89,106.08 402.07,106.25 403.26,106.41 404.45,106.57 405.63,106.73 406.82,106.89 408.01,107.04 409.19,107.20 410.38,107.35 411.56,107.50 412.75,107.65 413.94,107.80 415.12,107.94 416.31,108.09 417.49,108.23 418.68,108.37 419.87,108.50 421.05,108.63 422.24,108.77 423.42,108.89 424.61,109.02 425.80,109.15 426.98,109.27 428.17,109.40 429.35,109.52 430.54,109.65 431.73,109.77 432.91,109.89 434.10,110.01 435.29,110.13 436.47,110.25 437.66,110.37 438.84,110.48 440.03,110.60 441.22,110.71 442.40,110.82 443.59,110.93 444.77,111.04 445.96,111.15 447.15,111.25 448.33,111.35 449.52,111.46 450.70,111.56 451.89,111.66 453.08,111.73" fill="none" stroke="#000" stroke-width="1.15" stroke-dasharray="2.15 1.45"/>
<polyline points="206.30,49.04 207.23,52.58 208.15,55.86 209.08,58.93 210.00,61.73 210.93,64.19 211.85,66.57 212.78,69.01 213.70,71.38 214.63,73.64 215.55,75.80 216.48,77.84 217.40,79.63 218.33,81.30 219.25,82.88 220.18,84.36 221.10,85.76 222.03,87.08 222.95,88.33 223.88,89.51 224.80,90.63 225.73,91.70 226.65,92.71 227.58,93.66 228.50,94.56 229.43,95.42 230.35,96.23 231.28,97.01 232.20,97.74 233.13,98.43 234.05,99.08 234.98,99.70 235.91,100.29 236.83,100.85 237.76,101.39 238.68,101.89 239.61,102.38 240.53,102.84 241.46,103.28 242.38,103.70 243.31,104.12 244.23,104.52 245.16,104.92 246.08,105.30 247.01,105.66 247.93,106.02 248.86,106.36 249.78,106.69 250.71,107.01 251.63,107.31 252.56,107.61 253.48,107.90 254.41,108.19 255.33,108.46 256.26,108.72 257.18,108.98 258.11,109.24 259.03,109.48 259.96,109.72 260.88,109.95 261.81,110.18 262.73,110.40 263.66,110.62 264.58,110.83 265.51,111.04 266.44,111.25 267.36,111.45 268.29,111.65 269.21,111.84 270.14,112.03 271.06,112.21 271.99,112.40 272.91,112.57 273.84,112.75 274.76,112.92 275.69,113.09 276.61,113.26 277.54,113.42 278.46,113.59 279.39,113.75 280.31,113.91 281.24,114.07 282.16,114.23 283.09,114.39 284.01,114.54 284.94,114.70 285.86,114.85 286.79,115.00 287.71,115.15 288.64,115.30 289.56,115.45 290.49,115.59 291.41,115.74 292.34,115.88 293.26,116.02 294.19,116.16 295.12,116.29 296.04,116.43 296.97,116.57 297.89,116.70 298.82,116.83 299.74,116.97 300.67,117.10 301.59,117.25 302.52,117.40 303.44,117.55 304.37,117.69 305.29,117.83 306.22,117.97 307.14,118.10 308.07,118.23 308.99,118.36 309.92,118.49 310.84,118.61 311.77,118.74 312.69,118.86 313.62,118.98 314.54,119.11 315.47,119.23 316.39,119.35 317.32,119.46 318.24,119.58 319.17,119.70 320.09,119.81 321.02,119.93 321.94,120.04 322.87,120.16 323.79,120.27 324.72,120.38 325.65,120.49 326.57,120.59 327.50,120.70 328.42,120.80 329.35,120.90 330.27,120.99 331.20,121.09 332.12,121.18 333.05,121.28 333.97,121.37 334.90,121.47 335.82,121.56 336.75,121.66 337.67,121.75 338.60,121.85 339.52,121.94 340.45,122.03 341.37,122.12 342.30,122.21 343.22,122.30 344.15,122.39 345.07,122.48 346.00,122.56 346.92,122.65 347.85,122.73 348.77,122.81 349.70,122.90 350.62,122.98 351.55,123.06 352.47,123.13 353.40,123.20" fill="none" stroke="#0000ff" stroke-width="1.1"/>
<circle cx="208.6" cy="55.7" r="1.1" fill="#0000ff"/>
<circle cx="212.8" cy="86.2" r="1.1" fill="#0000ff"/>
<circle cx="217.3" cy="88.1" r="1.1" fill="#0000ff"/>
<circle cx="226.2" cy="83.8" r="1.1" fill="#0000ff"/>
<circle cx="239.4" cy="92.1" r="1.1" fill="#0000ff"/>
<circle cx="252.8" cy="102.1" r="1.1" fill="#0000ff"/>
<circle cx="266.1" cy="114.9" r="1.1" fill="#0000ff"/>
<circle cx="283.5" cy="114.1" r="1.1" fill="#0000ff"/>
<circle cx="305.8" cy="119.6" r="1.1" fill="#0000ff"/>
<circle cx="327.9" cy="122.4" r="1.1" fill="#0000ff"/>
<rect x="306.4" y="14.4" width="45.80" height="19.20" fill="#fff" stroke="#b0b0b0" stroke-width="0.8"/>
<circle cx="313.4" cy="17.60" r="1" fill="#0000ff"/>
<line x1="308.4" y1="23.40" x2="318.0" y2="23.40" stroke="#000" stroke-width="1" stroke-dasharray="2.1 1.7"/>
<line x1="308.4" y1="29.50" x2="318.0" y2="29.50" stroke="#0000ff" stroke-width="1"/>
<text transform="translate(319.20,19.20) scale(0.970,1)" font-family='"Liberation Sans", sans-serif' font-size="5.0" font-weight="normal" text-anchor="start" stroke="#000" stroke-width="0.2">data</text>
<text transform="translate(319.20,25.00) scale(0.970,1)" font-family='"Liberation Sans", sans-serif' font-size="5.0" font-weight="normal" text-anchor="start" stroke="#000" stroke-width="0.2">physical decay</text>
<text transform="translate(319.20,31.10) scale(0.970,1)" font-family='"Liberation Sans", sans-serif' font-size="5.0" font-weight="normal" text-anchor="start" stroke="#000" stroke-width="0.2">direct fit</text>
<text transform="translate(248.30,7.60) scale(1.142,1)" font-family='"Liberation Sans", sans-serif' font-size="5.7" font-weight="normal" text-anchor="start" stroke="#000" stroke-width="0.3">M4L, proton irradiated</text>
<text transform="translate(214.90,27.60) scale(1.060,1)" font-family='"Liberation Serif", serif' font-size="9.0" font-weight="normal" text-anchor="start" stroke="#000" stroke-width="0.15">(d)</text>
<text transform="translate(191.30,70.40) rotate(-90) scale(0.837,1)" font-family='"Liberation Sans", sans-serif' font-size="7.0" font-weight="bold" text-anchor="middle" stroke="#000" stroke-width="0.15">activity (Bq/ml)</text>
<text transform="translate(279.85,141.00) scale(0.851,1)" font-family='"Liberation Sans", sans-serif' font-size="7.0" font-weight="bold" text-anchor="middle" stroke="#000" stroke-width="0.15">time (sec)</text>
<rect x="205.4" y="164.4" width="148.1" height="116.99999999999997" fill="none" stroke="#b0b0b0" stroke-width="1.0"/>
<text transform="translate(205.10,283.80) scale(0.853,1)" font-family='"Liberation Sans", sans-serif' font-size="5.8" font-weight="bold" text-anchor="end" >0</text>
<line x1="205.4" y1="264.69" x2="207.0" y2="264.69" stroke="#b0b0b0" stroke-width="0.7"/>
<line x1="353.5" y1="264.69" x2="351.9" y2="264.69" stroke="#b0b0b0" stroke-width="0.7"/>
<text transform="translate(205.10,267.09) scale(0.853,1)" font-family='"Liberation Sans", sans-serif' font-size="5.8" font-weight="bold" text-anchor="end" >100</text>
<line x1="205.4" y1="247.97" x2="207.0" y2="247.97" stroke="#b0b0b0" stroke-width="0.7"/>
<line x1="353.5" y1="247.97" x2="351.9" y2="247.97" stroke="#b0b0b0" stroke-width="0.7"/>
<text transform="translate(205.10,250.37) scale(0.853,1)" font-family='"Liberation Sans", sans-serif' font-size="5.8" font-weight="bold" text-anchor="end" >200</text>
<line x1="205.4" y1="231.26" x2="207.0" y2="231.26" stroke="#b0b0b0" stroke-width="0.7"/>
<line x1="353.5" y1="231.26" x2="351.9" y2="231.26" stroke="#b0b0b0" stroke-width="0.7"/>
<text transform="translate(205.10,233.66) scale(0.853,1)" font-family='"Liberation Sans", sans-serif' font-size="5.8" font-weight="bold" text-anchor="end" >300</text>
<line x1="205.4" y1="214.54" x2="207.0" y2="214.54" stroke="#b0b0b0" stroke-width="0.7"/>
<line x1="353.5" y1="214.54" x2="351.9" y2="214.54" stroke="#b0b0b0" stroke-width="0.7"/>
<text transform="translate(205.10,216.94) scale(0.853,1)" font-family='"Liberation Sans", sans-serif' font-size="5.8" font-weight="bold" text-anchor="end" >400</text>
<line x1="205.4" y1="197.83" x2="207.0" y2="197.83" stroke="#b0b0b0" stroke-width="0.7"/>
<line x1="353.5" y1="197.83" x2="351.9" y2="197.83" stroke="#b0b0b0" stroke-width="0.7"/>
<text transform="translate(205.10,200.23) scale(0.853,1)" font-family='"Liberation Sans", sans-serif' font-size="5.8" font-weight="bold" text-anchor="end" >500</text>
<line x1="205.4" y1="181.11" x2="207.0" y2="181.11" stroke="#b0b0b0" stroke-width="0.7"/>
<line x1="353.5" y1="181.11" x2="351.9" y2="181.11" stroke="#b0b0b0" stroke-width="0.7"/>
<text transform="translate(205.10,183.51) scale(0.853,1)" font-family='"Liberation Sans", sans-serif' font-size="5.8" font-weight="bold" text-anchor="end" >600</text>
<text transform="translate(205.10,166.80) scale(0.853,1)" font-family='"Liberation Sans", sans-serif' font-size="5.8" font-weight="bold" text-anchor="end" >700</text>
<text transform="translate(205.40,287.00) scale(0.853,1)" font-family='"Liberation Sans", sans-serif' font-size="5.8" font-weight="bold" text-anchor="middle" >203</text>
<line x1="242.43" y1="281.4" x2="242.43" y2="279.79999999999995" stroke="#b0b0b0" stroke-width="0.7"/>
<line x1="242.43" y1="164.4" x2="242.43" y2="166.0" stroke="#b0b0b0" stroke-width="0.7"/>
<text transform="translate(242.43,287.00) scale(0.853,1)" font-family='"Liberation Sans", sans-serif' font-size="5.8" font-weight="bold" text-anchor="middle" >703</text>
<line x1="279.45" y1="281.4" x2="279.45" y2="279.79999999999995" stroke="#b0b0b0" stroke-width="0.7"/>
<line x1="279.45" y1="164.4" x2="279.45" y2="166.0" stroke="#b0b0b0" stroke-width="0.7"/>
<text transform="translate(279.45,287.00) scale(0.853,1)" font-family='"Liberation Sans", sans-serif' font-size="5.8" font-weight="bold" text-anchor="middle" >1203</text>
<line x1="316.48" y1="281.4" x2="316.48" y2="279.79999999999995" stroke="#b0b0b0" stroke-width="0.7"/>
<line x1="316.48" y1="164.4" x2="316.48" y2="166.0" stroke="#b0b0b0" stroke-width="0.7"/>
<text transform="translate(316.48,287.00) scale(0.853,1)" font-family='"Liberation Sans", sans-serif' font-size="5.8" font-weight="bold" text-anchor="middle" >1703</text>
<text transform="translate(353.50,287.00) scale(0.853,1)" font-family='"Liberation Sans", sans-serif' font-size="5.8" font-weight="bold" text-anchor="middle" >2203</text>
<polyline transform="scale(0.78,1)" points="263.33,177.34 264.53,177.95 265.72,182.19 266.92,186.26 268.11,189.71 269.30,193.03 270.50,196.23 271.69,199.25 272.89,201.88 274.08,204.46 275.27,207.02 276.47,209.31 277.66,211.41 278.86,213.49 280.05,215.50 281.25,217.28 282.44,218.92 283.63,220.49 284.83,222.10 286.02,223.51 287.22,224.84 288.41,226.11 289.60,227.31 290.80,228.45 291.99,229.52 293.19,230.53 294.38,231.49 295.58,232.39 296.77,233.25 297.96,234.06 299.16,234.84 300.35,235.67 301.55,236.47 302.74,237.14 303.93,237.76 305.13,238.33 306.32,238.88 307.52,239.40 308.71,239.91 309.91,240.40 311.10,240.89 312.29,241.37 313.49,241.85 314.68,242.30 315.88,242.74 317.07,243.17 318.26,243.58 319.46,243.98 320.65,244.37 321.85,244.75 323.04,245.13 324.24,245.49 325.43,245.85 326.62,246.20 327.82,246.55 329.01,246.88 330.21,247.20 331.40,247.52 332.59,247.82 333.79,248.11 334.98,248.40 336.18,248.68 337.37,248.95 338.57,249.22 339.76,249.49 340.95,249.75 342.15,250.00 343.34,250.25 344.54,250.50 345.73,250.75 346.92,250.99 348.12,251.23 349.31,251.47 350.51,251.70 351.70,251.93 352.90,252.16 354.09,252.39 355.28,252.61 356.48,252.83 357.67,253.05 358.87,253.27 360.06,253.48 361.25,253.68 362.45,253.89 363.64,254.09 364.84,254.29 366.03,254.48 367.23,254.67 368.42,254.86 369.61,255.05 370.81,255.24 372.00,255.43 373.20,255.61 374.39,255.80 375.58,255.98 376.78,256.15 377.97,256.33 379.17,256.51 380.36,256.68 381.56,256.86 382.75,257.03 383.94,257.21 385.14,257.38 386.33,257.57 387.53,257.76 388.72,257.95 389.91,258.14 391.11,258.32 392.30,258.50 393.50,258.68 394.69,258.85 395.89,259.03 397.08,259.20 398.27,259.37 399.47,259.54 400.66,259.70 401.86,259.86 403.05,260.03 404.24,260.19 405.44,260.34 406.63,260.50 407.83,260.66 409.02,260.81 410.22,260.97 411.41,261.12 412.60,261.27 413.80,261.42 414.99,261.57 416.19,261.71 417.38,261.86 418.57,262.00 419.77,262.14 420.96,262.27 422.16,262.41 423.35,262.54 424.55,262.67 425.74,262.80 426.93,262.93 428.13,263.06 429.32,263.19 430.52,263.31 431.71,263.44 432.90,263.56 434.10,263.68 435.29,263.80 436.49,263.92 437.68,264.04 438.88,264.16 440.07,264.28 441.26,264.40 442.46,264.52 443.65,264.64 444.85,264.76 446.04,264.88 447.23,265.00 448.43,265.12 449.62,265.24 450.82,265.35 452.01,265.47 453.21,265.55" fill="none" stroke="#000" stroke-width="1.15" stroke-dasharray="2.15 1.45"/>
<polyline points="205.40,206.94 206.33,208.07 207.26,211.16 208.19,214.26 209.13,217.19 210.06,219.96 210.99,222.59 211.92,225.07 212.85,227.36 213.78,229.49 214.71,231.44 215.65,233.21 216.58,234.84 217.51,236.37 218.44,237.78 219.37,239.07 220.30,240.29 221.23,241.43 222.17,242.49 223.10,243.50 224.03,244.45 224.96,245.38 225.89,246.25 226.82,247.09 227.75,247.88 228.69,248.63 229.62,249.35 230.55,250.07 231.48,250.79 232.41,251.48 233.34,252.11 234.27,252.66 235.21,253.18 236.14,253.67 237.07,254.14 238.00,254.59 238.93,255.01 239.86,255.42 240.79,255.81 241.73,256.19 242.66,256.55 243.59,256.90 244.52,257.22 245.45,257.53 246.38,257.82 247.32,258.11 248.25,258.39 249.18,258.68 250.11,258.97 251.04,259.27 251.97,259.56 252.90,259.84 253.84,260.12 254.77,260.40 255.70,260.66 256.63,260.93 257.56,261.19 258.49,261.44 259.42,261.69 260.36,261.93 261.29,262.17 262.22,262.41 263.15,262.64 264.08,262.87 265.01,263.10 265.94,263.32 266.88,263.54 267.81,263.75 268.74,263.96 269.67,264.17 270.60,264.38 271.53,264.58 272.46,264.78 273.40,264.98 274.33,265.17 275.26,265.37 276.19,265.56 277.12,265.74 278.05,265.93 278.98,266.11 279.92,266.29 280.85,266.47 281.78,266.64 282.71,266.82 283.64,266.98 284.57,267.15 285.50,267.31 286.44,267.48 287.37,267.64 288.30,267.80 289.23,267.96 290.16,268.12 291.09,268.28 292.02,268.44 292.96,268.59 293.89,268.75 294.82,268.90 295.75,269.06 296.68,269.21 297.61,269.36 298.54,269.51 299.48,269.66 300.41,269.81 301.34,269.99 302.27,270.19 303.20,270.39 304.13,270.57 305.06,270.73 306.00,270.86 306.93,270.99 307.86,271.12 308.79,271.25 309.72,271.37 310.65,271.49 311.58,271.61 312.52,271.74 313.45,271.86 314.38,271.98 315.31,272.10 316.24,272.23 317.17,272.35 318.11,272.47 319.04,272.59 319.97,272.71 320.90,272.83 321.83,272.95 322.76,273.07 323.69,273.18 324.63,273.29 325.56,273.41 326.49,273.52 327.42,273.62 328.35,273.73 329.28,273.83 330.21,273.94 331.15,274.04 332.08,274.14 333.01,274.23 333.94,274.33 334.87,274.43 335.80,274.52 336.73,274.61 337.67,274.70 338.60,274.79 339.53,274.87 340.46,274.95 341.39,275.03 342.32,275.11 343.25,275.19 344.19,275.28 345.12,275.36 346.05,275.44 346.98,275.52 347.91,275.60 348.84,275.68 349.77,275.75 350.71,275.83 351.64,275.91 352.57,275.99 353.50,276.04" fill="none" stroke="#0000ff" stroke-width="1.1"/>
<circle cx="208.1" cy="228.8" r="1.1" fill="#0000ff"/>
<circle cx="212.4" cy="213" r="1.1" fill="#0000ff"/>
<circle cx="217.1" cy="224.4" r="1.1" fill="#0000ff"/>
<circle cx="226" cy="245.9" r="1.1" fill="#0000ff"/>
<circle cx="239.1" cy="253" r="1.1" fill="#0000ff"/>
<circle cx="252.5" cy="255.8" r="1.1" fill="#0000ff"/>
<circle cx="265.8" cy="262.1" r="1.1" fill="#0000ff"/>
<circle cx="283.5" cy="264.2" r="1.1" fill="#0000ff"/>
<circle cx="305.8" cy="271.9" r="1.1" fill="#0000ff"/>
<circle cx="327.9" cy="274.9" r="1.1" fill="#0000ff"/>
<rect x="305.4" y="166.25" width="46.35" height="19.05" fill="#fff" stroke="#b0b0b0" stroke-width="0.8"/>
<circle cx="312.4" cy="170.00" r="1" fill="#0000ff"/>
<line x1="307.4" y1="175.90" x2="317.0" y2="175.90" stroke="#000" stroke-width="1" stroke-dasharray="2.1 1.7"/>
<line x1="307.4" y1="181.90" x2="317.0" y2="181.90" stroke="#0000ff" stroke-width="1"/>
<text transform="translate(318.20,171.60) scale(0.970,1)" font-family='"Liberation Sans", sans-serif' font-size="5.0" font-weight="normal" text-anchor="start" stroke="#000" stroke-width="0.2">data</text>
<text transform="translate(318.20,177.50) scale(0.970,1)" font-family='"Liberation Sans", sans-serif' font-size="5.0" font-weight="normal" text-anchor="start" stroke="#000" stroke-width="0.2">physical decay</text>
<text transform="translate(318.20,183.50) scale(0.970,1)" font-family='"Liberation Sans", sans-serif' font-size="5.0" font-weight="normal" text-anchor="start" stroke="#000" stroke-width="0.2">direct fit</text>
<text transform="translate(248.10,160.30) scale(1.128,1)" font-family='"Liberation Sans", sans-serif' font-size="5.7" font-weight="normal" text-anchor="start" stroke="#000" stroke-width="0.3">M5L, proton irradiated</text>
<text transform="translate(214.70,182.80) scale(1.060,1)" font-family='"Liberation Serif", serif' font-size="9.0" font-weight="normal" text-anchor="start" stroke="#000" stroke-width="0.15">(e)</text>
<text transform="translate(190.40,222.90) rotate(-90) scale(0.837,1)" font-family='"Liberation Sans", sans-serif' font-size="7.0" font-weight="bold" text-anchor="middle" stroke="#000" stroke-width="0.15">activity (Bq/ml)</text>
<text transform="translate(279.45,294.00) scale(0.851,1)" font-family='"Liberation Sans", sans-serif' font-size="7.0" font-weight="bold" text-anchor="middle" stroke="#000" stroke-width="0.15">time (sec)</text>
<rect x="204.4" y="317.4" width="147.99999999999997" height="116.0" fill="none" stroke="#b0b0b0" stroke-width="1.0"/>
<text transform="translate(204.10,435.80) scale(0.853,1)" font-family='"Liberation Sans", sans-serif' font-size="5.8" font-weight="bold" text-anchor="end" >0</text>
<line x1="204.4" y1="416.83" x2="206.0" y2="416.83" stroke="#b0b0b0" stroke-width="0.7"/>
<line x1="352.4" y1="416.83" x2="350.79999999999995" y2="416.83" stroke="#b0b0b0" stroke-width="0.7"/>
<text transform="translate(204.10,419.23) scale(0.853,1)" font-family='"Liberation Sans", sans-serif' font-size="5.8" font-weight="bold" text-anchor="end" >100</text>
<line x1="204.4" y1="400.26" x2="206.0" y2="400.26" stroke="#b0b0b0" stroke-width="0.7"/>
<line x1="352.4" y1="400.26" x2="350.79999999999995" y2="400.26" stroke="#b0b0b0" stroke-width="0.7"/>
<text transform="translate(204.10,402.66) scale(0.853,1)" font-family='"Liberation Sans", sans-serif' font-size="5.8" font-weight="bold" text-anchor="end" >200</text>
<line x1="204.4" y1="383.69" x2="206.0" y2="383.69" stroke="#b0b0b0" stroke-width="0.7"/>
<line x1="352.4" y1="383.69" x2="350.79999999999995" y2="383.69" stroke="#b0b0b0" stroke-width="0.7"/>
<text transform="translate(204.10,386.09) scale(0.853,1)" font-family='"Liberation Sans", sans-serif' font-size="5.8" font-weight="bold" text-anchor="end" >300</text>
<line x1="204.4" y1="367.11" x2="206.0" y2="367.11" stroke="#b0b0b0" stroke-width="0.7"/>
<line x1="352.4" y1="367.11" x2="350.79999999999995" y2="367.11" stroke="#b0b0b0" stroke-width="0.7"/>
<text transform="translate(204.10,369.51) scale(0.853,1)" font-family='"Liberation Sans", sans-serif' font-size="5.8" font-weight="bold" text-anchor="end" >400</text>
<line x1="204.4" y1="350.54" x2="206.0" y2="350.54" stroke="#b0b0b0" stroke-width="0.7"/>
<line x1="352.4" y1="350.54" x2="350.79999999999995" y2="350.54" stroke="#b0b0b0" stroke-width="0.7"/>
<text transform="translate(204.10,352.94) scale(0.853,1)" font-family='"Liberation Sans", sans-serif' font-size="5.8" font-weight="bold" text-anchor="end" >500</text>
<line x1="204.4" y1="333.97" x2="206.0" y2="333.97" stroke="#b0b0b0" stroke-width="0.7"/>
<line x1="352.4" y1="333.97" x2="350.79999999999995" y2="333.97" stroke="#b0b0b0" stroke-width="0.7"/>
<text transform="translate(204.10,336.37) scale(0.853,1)" font-family='"Liberation Sans", sans-serif' font-size="5.8" font-weight="bold" text-anchor="end" >600</text>
<text transform="translate(204.10,319.80) scale(0.853,1)" font-family='"Liberation Sans", sans-serif' font-size="5.8" font-weight="bold" text-anchor="end" >700</text>
<text transform="translate(204.40,439.00) scale(0.853,1)" font-family='"Liberation Sans", sans-serif' font-size="5.8" font-weight="bold" text-anchor="middle" >205</text>
<line x1="241.40" y1="433.4" x2="241.40" y2="431.79999999999995" stroke="#b0b0b0" stroke-width="0.7"/>
<line x1="241.40" y1="317.4" x2="241.40" y2="319.0" stroke="#b0b0b0" stroke-width="0.7"/>
<text transform="translate(241.40,439.00) scale(0.853,1)" font-family='"Liberation Sans", sans-serif' font-size="5.8" font-weight="bold" text-anchor="middle" >705</text>
<line x1="278.40" y1="433.4" x2="278.40" y2="431.79999999999995" stroke="#b0b0b0" stroke-width="0.7"/>
<line x1="278.40" y1="317.4" x2="278.40" y2="319.0" stroke="#b0b0b0" stroke-width="0.7"/>
<text transform="translate(278.40,439.00) scale(0.853,1)" font-family='"Liberation Sans", sans-serif' font-size="5.8" font-weight="bold" text-anchor="middle" >1205</text>
<line x1="315.40" y1="433.4" x2="315.40" y2="431.79999999999995" stroke="#b0b0b0" stroke-width="0.7"/>
<line x1="315.40" y1="317.4" x2="315.40" y2="319.0" stroke="#b0b0b0" stroke-width="0.7"/>
<text transform="translate(315.40,439.00) scale(0.853,1)" font-family='"Liberation Sans", sans-serif' font-size="5.8" font-weight="bold" text-anchor="middle" >1705</text>
<text transform="translate(352.40,439.00) scale(0.853,1)" font-family='"Liberation Sans", sans-serif' font-size="5.8" font-weight="bold" text-anchor="middle" >2205</text>
<polyline transform="scale(0.78,1)" points="262.05,332.72 263.24,333.31 264.44,337.36 265.63,341.21 266.82,344.60 268.02,347.75 269.21,350.73 270.40,353.52 271.60,356.08 272.79,358.47 273.98,360.72 275.18,362.84 276.37,364.84 277.56,366.78 278.76,368.65 279.95,370.33 281.14,371.90 282.34,373.38 283.53,374.80 284.73,376.14 285.92,377.40 287.11,378.60 288.31,379.74 289.50,380.83 290.69,381.88 291.89,382.86 293.08,383.79 294.27,384.67 295.47,385.50 296.66,386.29 297.85,387.04 299.05,387.60 300.24,388.07 301.43,388.66 302.63,389.24 303.82,389.80 305.01,390.35 306.21,390.88 307.40,391.40 308.59,391.90 309.79,392.39 310.98,392.88 312.17,393.37 313.37,393.87 314.56,394.36 315.75,394.84 316.95,395.31 318.14,395.77 319.33,396.20 320.53,396.60 321.72,396.97 322.91,397.34 324.11,397.71 325.30,398.06 326.49,398.40 327.69,398.74 328.88,399.07 330.07,399.39 331.27,399.70 332.46,400.01 333.65,400.32 334.85,400.61 336.04,400.91 337.23,401.20 338.43,401.48 339.62,401.76 340.81,402.03 342.01,402.30 343.20,402.57 344.39,402.83 345.59,403.09 346.78,403.34 347.97,403.60 349.17,403.84 350.36,404.09 351.55,404.33 352.75,404.56 353.94,404.80 355.13,405.03 356.33,405.26 357.52,405.48 358.71,405.70 359.91,405.92 361.10,406.14 362.29,406.35 363.49,406.56 364.68,406.77 365.87,406.98 367.07,407.18 368.26,407.38 369.45,407.58 370.65,407.78 371.84,407.98 373.03,408.17 374.23,408.37 375.42,408.56 376.61,408.75 377.81,408.94 379.00,409.13 380.19,409.31 381.39,409.50 382.58,409.68 383.77,409.86 384.97,410.04 386.16,410.21 387.35,410.38 388.55,410.56 389.74,410.73 390.93,410.90 392.13,411.07 393.32,411.24 394.51,411.42 395.71,411.59 396.90,411.76 398.09,411.94 399.29,412.11 400.48,412.28 401.67,412.44 402.87,412.61 404.06,412.76 405.25,412.92 406.45,413.07 407.64,413.22 408.83,413.37 410.03,413.52 411.22,413.67 412.41,413.81 413.61,413.95 414.80,414.10 415.99,414.24 417.19,414.38 418.38,414.52 419.57,414.65 420.77,414.79 421.96,414.92 423.15,415.05 424.35,415.19 425.54,415.32 426.73,415.44 427.93,415.57 429.12,415.70 430.31,415.82 431.51,415.94 432.70,416.06 433.89,416.18 435.09,416.29 436.28,416.40 437.47,416.52 438.67,416.63 439.86,416.74 441.05,416.85 442.25,416.97 443.44,417.08 444.63,417.20 445.83,417.31 447.02,417.42 448.21,417.53 449.41,417.64 450.60,417.75 451.79,417.85" fill="none" stroke="#000" stroke-width="1.15" stroke-dasharray="2.15 1.45"/>
<polyline points="204.40,362.18 205.33,363.25 206.26,366.09 207.19,368.71 208.12,371.17 209.05,373.39 209.98,375.48 210.92,377.49 211.85,379.40 212.78,381.25 213.71,383.04 214.64,384.73 215.57,386.34 216.50,387.86 217.43,389.28 218.36,390.58 219.29,391.80 220.22,392.96 221.15,394.07 222.09,395.13 223.02,396.13 223.95,397.09 224.88,398.00 225.81,398.89 226.74,399.75 227.67,400.58 228.60,401.36 229.53,402.09 230.46,402.77 231.39,403.41 232.32,404.01 233.26,404.58 234.19,405.13 235.12,405.65 236.05,406.14 236.98,406.61 237.91,407.06 238.84,407.49 239.77,407.91 240.70,408.32 241.63,408.73 242.56,409.13 243.49,409.54 244.43,409.95 245.36,410.35 246.29,410.74 247.22,411.13 248.15,411.49 249.08,411.84 250.01,412.16 250.94,412.45 251.87,412.74 252.80,413.01 253.73,413.28 254.66,413.54 255.59,413.79 256.53,414.03 257.46,414.27 258.39,414.50 259.32,414.73 260.25,414.96 261.18,415.18 262.11,415.39 263.04,415.60 263.97,415.81 264.90,416.01 265.83,416.21 266.76,416.41 267.70,416.60 268.63,416.80 269.56,416.98 270.49,417.17 271.42,417.35 272.35,417.53 273.28,417.71 274.21,417.89 275.14,418.06 276.07,418.23 277.00,418.40 277.93,418.57 278.87,418.74 279.80,418.90 280.73,419.07 281.66,419.23 282.59,419.39 283.52,419.55 284.45,419.71 285.38,419.87 286.31,420.02 287.24,420.17 288.17,420.32 289.10,420.47 290.04,420.62 290.97,420.77 291.90,420.91 292.83,421.05 293.76,421.19 294.69,421.33 295.62,421.47 296.55,421.61 297.48,421.74 298.41,421.88 299.34,422.01 300.27,422.15 301.21,422.31 302.14,422.49 303.07,422.68 304.00,422.85 304.93,423.00 305.86,423.13 306.79,423.26 307.72,423.38 308.65,423.50 309.58,423.63 310.51,423.75 311.44,423.87 312.37,423.99 313.31,424.11 314.24,424.22 315.17,424.34 316.10,424.46 317.03,424.57 317.96,424.68 318.89,424.79 319.82,424.90 320.75,425.01 321.68,425.11 322.61,425.22 323.54,425.33 324.48,425.43 325.41,425.53 326.34,425.63 327.27,425.74 328.20,425.83 329.13,425.93 330.06,426.03 330.99,426.13 331.92,426.22 332.85,426.32 333.78,426.41 334.71,426.50 335.65,426.60 336.58,426.69 337.51,426.78 338.44,426.87 339.37,426.96 340.30,427.05 341.23,427.14 342.16,427.23 343.09,427.31 344.02,427.40 344.95,427.48 345.88,427.57 346.82,427.65 347.75,427.73 348.68,427.81 349.61,427.90 350.54,427.98 351.47,428.05 352.40,428.12" fill="none" stroke="#0000ff" stroke-width="1.1"/>
<circle cx="207.1" cy="378" r="1.1" fill="#0000ff"/>
<circle cx="211.6" cy="373.7" r="1.1" fill="#0000ff"/>
<circle cx="216.1" cy="387.4" r="1.1" fill="#0000ff"/>
<circle cx="224.8" cy="397.2" r="1.1" fill="#0000ff"/>
<circle cx="237.9" cy="400.5" r="1.1" fill="#0000ff"/>
<circle cx="251.3" cy="407.9" r="1.1" fill="#0000ff"/>
<circle cx="264.6" cy="415.2" r="1.1" fill="#0000ff"/>
<circle cx="282.4" cy="421.9" r="1.1" fill="#0000ff"/>
<circle cx="304.6" cy="424.1" r="1.1" fill="#0000ff"/>
<circle cx="326.6" cy="427.4" r="1.1" fill="#0000ff"/>
<rect x="304.25" y="318.9" width="46.50" height="18.60" fill="#fff" stroke="#b0b0b0" stroke-width="0.8"/>
<circle cx="311.25" cy="322.25" r="1" fill="#0000ff"/>
<line x1="306.25" y1="328.40" x2="315.85" y2="328.40" stroke="#000" stroke-width="1" stroke-dasharray="2.1 1.7"/>
<line x1="306.25" y1="334.30" x2="315.85" y2="334.30" stroke="#0000ff" stroke-width="1"/>
<text transform="translate(317.05,323.85) scale(0.970,1)" font-family='"Liberation Sans", sans-serif' font-size="5.0" font-weight="normal" text-anchor="start" stroke="#000" stroke-width="0.2">data</text>
<text transform="translate(317.05,330.00) scale(0.970,1)" font-family='"Liberation Sans", sans-serif' font-size="5.0" font-weight="normal" text-anchor="start" stroke="#000" stroke-width="0.2">physical decay</text>
<text transform="translate(317.05,335.90) scale(0.970,1)" font-family='"Liberation Sans", sans-serif' font-size="5.0" font-weight="normal" text-anchor="start" stroke="#000" stroke-width="0.2">direct fit</text>
<text transform="translate(246.30,312.30) scale(1.141,1)" font-family='"Liberation Sans", sans-serif' font-size="5.7" font-weight="normal" text-anchor="start" stroke="#000" stroke-width="0.3">M6R, proton irradiated</text>
<text transform="translate(214.90,334.60) scale(1.060,1)" font-family='"Liberation Serif", serif' font-size="9.0" font-weight="normal" text-anchor="start" stroke="#000" stroke-width="0.15">(f)</text>
<text transform="translate(189.40,375.40) rotate(-90) scale(0.837,1)" font-family='"Liberation Sans", sans-serif' font-size="7.0" font-weight="bold" text-anchor="middle" stroke="#000" stroke-width="0.15">activity (Bq/ml)</text>
<text transform="translate(278.40,446.00) scale(0.851,1)" font-family='"Liberation Sans", sans-serif' font-size="7.0" font-weight="bold" text-anchor="middle" stroke="#000" stroke-width="0.15">time (sec)</text>
</svg></body></html>
